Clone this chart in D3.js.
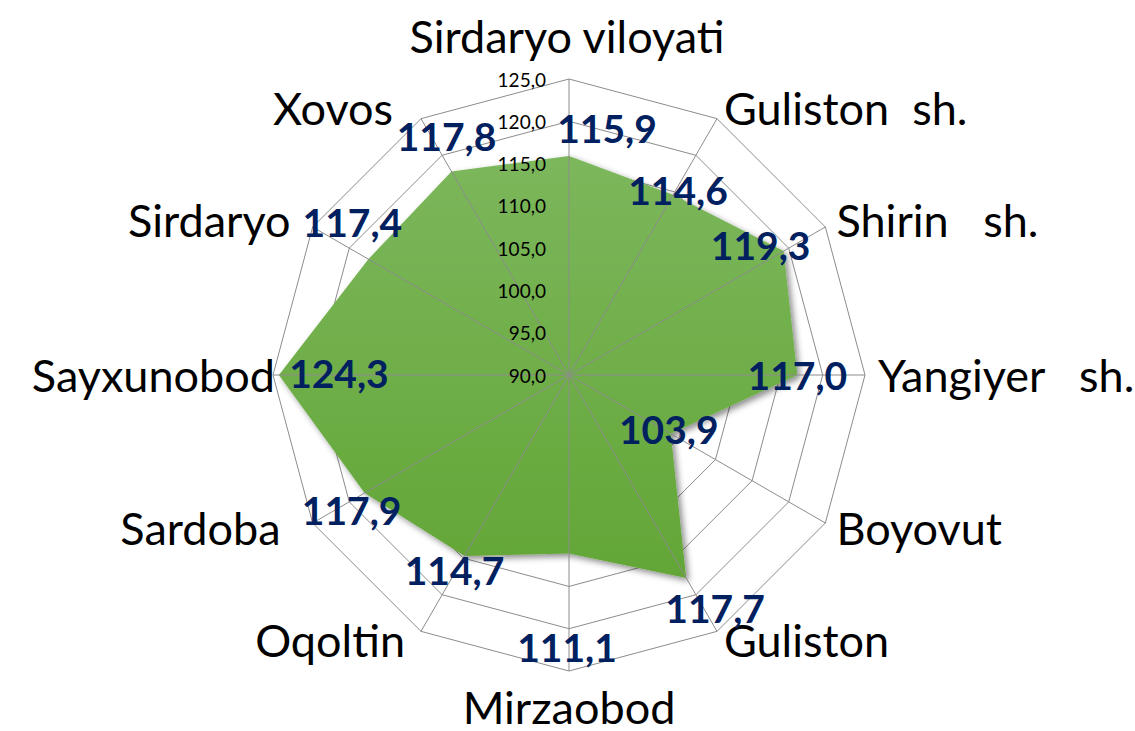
<!DOCTYPE html>
<html>
<head>
<meta charset="utf-8">
<script src="https://cdn.jsdelivr.net/npm/d3@7"></script>
<style>
  html, body { margin: 0; padding: 0; background: #fff; }
  svg { display: block; }
</style>
</head>
<body>
<div id="chart"></div>
<script>
// categories clockwise from the top
var categories = ["Sirdaryo viloyati", "Guliston  sh.", "Shirin   sh.", "Yangiyer   sh.", "Boyovut", "Guliston",
                  "Mirzaobod", "Oqoltin", "Sardoba", "Sayxunobod", "Sirdaryo", "Xovos"];
var values = [115.9, 114.6, 119.3, 117.0, 103.9, 117.7, 111.1, 114.7, 117.9, 124.3, 117.4, 117.8];
var ticks = [90, 95, 100, 105, 110, 115, 120, 125];

// where excel dropped each data label, relative to its point
var labelShift = [[38, -28], [5, -5], [-23, -6], [0, 0], [-2, -5], [29, 30],
                  [-2, 94], [-10, 14], [-13, 17], [60, -2], [-16, -37], [-5, -35]];
// small nudges for the category names
var catNudge = [[-2, -29], [0, 1], [-1, 0], [-1, 0], [-1, -2], [0, -3],
                [0, 22], [-9, -3], [-20, -2], [16, 0], [-10, 0], [-21, 1]];

var width = 1135, height = 731;
var cx = 569, cy = 375, R = 296;

var svg = d3.select("#chart").append("svg")
    .attr("width", width)
    .attr("height", height);

var defs = svg.append("defs");
var grad = defs.append("linearGradient")
    .attr("id", "areaFill")
    .attr("x1", 0).attr("y1", 0).attr("x2", 0).attr("y2", 1);
grad.append("stop").attr("offset", "0%").attr("stop-color", "#7cb75c");
grad.append("stop").attr("offset", "100%").attr("stop-color", "#63a636");

var shadow = defs.append("filter")
    .attr("id", "shadow")
    .attr("x", "-10%").attr("y", "-10%").attr("width", "120%").attr("height", "120%");
shadow.append("feDropShadow")
    .attr("dx", 3).attr("dy", 3)
    .attr("stdDeviation", 3)
    .attr("flood-color", "#000")
    .attr("flood-opacity", 0.45);

var g = svg.append("g").attr("transform", "translate(" + cx + "," + cy + ")");

var r = d3.scaleLinear().domain([90, 125]).range([0, R]);
var angle = d3.scalePoint().domain(d3.range(categories.length + 1)).range([0, 2 * Math.PI]);

function px(i, v) { return Math.sin(angle(i)) * r(v); }
function py(i, v) { return -Math.cos(angle(i)) * r(v); }

// grid rings
var ring = d3.lineRadial()
    .angle(function (d, i) { return angle(i); })
    .radius(function (d) { return r(d); })
    .curve(d3.curveLinearClosed);

g.selectAll(".ring")
    .data(ticks.slice(1))
    .enter().append("path")
    .attr("class", "ring")
    .attr("d", function (t) { return ring(categories.map(function () { return t; })); })
    .attr("fill", "none")
    .attr("stroke", "#8c8c8c")
    .attr("stroke-width", 1);

// data area
g.append("path")
    .datum(values)
    .attr("d", ring)
    .attr("fill", "url(#areaFill)")
    .attr("filter", "url(#shadow)");

// spokes on top of the area
g.selectAll(".spoke")
    .data(categories)
    .enter().append("line")
    .attr("class", "spoke")
    .attr("x1", 0).attr("y1", 0)
    .attr("x2", function (d, i) { return px(i, 125); })
    .attr("y2", function (d, i) { return py(i, 125); })
    .attr("stroke", "#8c8c8c")
    .attr("stroke-width", 1);

// value axis labels
g.selectAll(".tick")
    .data(ticks)
    .enter().append("text")
    .attr("class", "tick")
    .attr("x", -23)
    .attr("y", function (t) { return -r(t); })
    .attr("text-anchor", "end")
    .attr("dominant-baseline", "central")
    .style("font-family", "Lato, 'Open Sans', sans-serif")
    .style("font-size", "19px")
    .attr("fill", "#000")
    .text(function (t) { return t.toFixed(1).replace(".", ","); });

// category labels
var labR = 310;
g.selectAll(".cat")
    .data(categories)
    .enter().append("text")
    .attr("class", "cat")
    .attr("x", function (d, i) { return Math.sin(angle(i)) * labR + catNudge[i][0]; })
    .attr("y", function (d, i) { return -Math.cos(angle(i)) * labR + catNudge[i][1]; })
    .attr("text-anchor", function (d, i) {
        if (i === 0 || i === 6) return "middle";
        return i < 6 ? "start" : "end";
    })
    .attr("dominant-baseline", "central")
    .style("font-family", "Lato, 'Open Sans', sans-serif")
    .style("font-size", "45px")
    .style("white-space", "pre")
    .attr("fill", "#000")
    .text(function (d) { return d; });

// data labels
g.selectAll(".val")
    .data(values)
    .enter().append("text")
    .attr("class", "val")
    .attr("x", function (d, i) { return px(i, d) + labelShift[i][0]; })
    .attr("y", function (d, i) { return py(i, d) + labelShift[i][1]; })
    .attr("text-anchor", "middle")
    .attr("dominant-baseline", "central")
    .style("font-family", "Lato, 'Open Sans', sans-serif")
    .style("font-weight", "bold")
    .style("font-size", "39px")
    .attr("fill", "#002060")
    .text(function (d) { return d.toFixed(1).replace(".", ","); });
</script>
</body>
</html>
